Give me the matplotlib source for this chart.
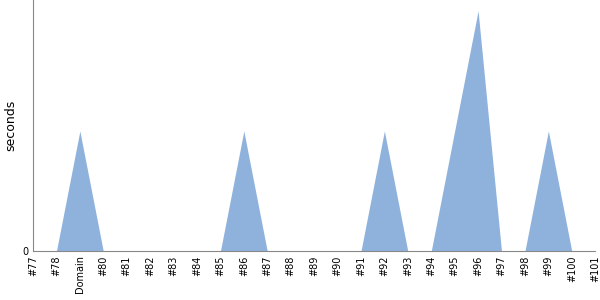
import numpy as np
import matplotlib.pyplot as plt

labels = ['#77', '#78', 'Domain', '#80', '#81', '#82', '#83', '#84', '#85', '#86',
          '#87', '#88', '#89', '#90', '#91', '#92', '#93', '#94', '#95', '#96',
          '#97', '#98', '#99', '#100', '#101']
seconds = [0, 0, 1, 0, 0, 0, 0, 0, 0, 1,
           0, 0, 0, 0, 0, 1, 0, 0, 1, 2,
           0, 0, 1, 0, 0]

x = np.arange(len(labels))

fig = plt.figure(figsize=(6, 3), dpi=100)
ax = fig.add_axes([0.055, 0.163, 0.937, 0.837])
ax.fill_between(x, seconds, 0, color='#8fb2dc', linewidth=0)
ax.set_xlim(0, len(labels) - 1)
ax.set_ylim(0, 2.09)
ax.set_xticks(x)
ax.set_xticklabels(labels, rotation=90, fontsize=7)
ax.set_yticks([0])
ax.set_yticklabels(['0'], fontsize=7)
ax.tick_params(length=0, pad=3)
ax.set_ylabel('seconds', fontsize=9)
for s in ['top', 'right']:
    ax.spines[s].set_visible(False)
for s in ['left', 'bottom']:
    ax.spines[s].set_color('#888888')
fig.savefig('out.png')
